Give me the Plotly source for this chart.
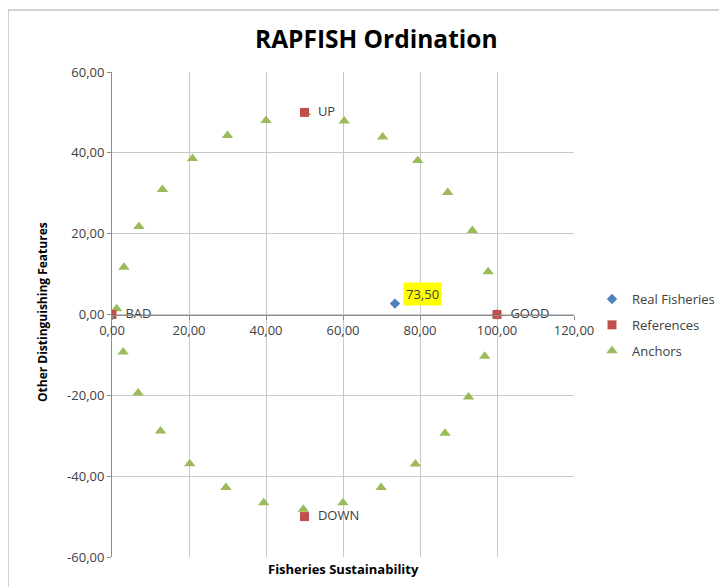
import plotly.graph_objects as go

# ---- data ----
anchor_x = [1.2, 3.1, 7.0, 13.1, 20.9, 30.0, 40.0, 50.3, 60.3, 70.3, 79.4, 87.2, 93.6, 97.7,
            99.8, 96.8, 92.6, 86.5, 78.8, 69.9, 60.0, 49.7, 39.4, 29.6, 20.2, 12.6, 6.8, 2.9]
anchor_y = [1.4, 11.7, 21.8, 30.9, 38.6, 44.3, 48.0, 49.9, 47.9, 43.9, 38.1, 30.2, 20.8, 10.6,
            0.2, -10.3, -20.4, -29.4, -37.0, -42.8, -46.6, -48.2, -46.6, -42.8, -36.9, -28.8, -19.4, -9.3]

ref_x = [0, 100, 50, 50]
ref_y = [0, 0, 50, -50]
ref_labels = ["BAD", "GOOD", "UP", "DOWN"]

rf_x = [73.5]
rf_y = [2.7]

x_ticks = [0, 20, 40, 60, 80, 100, 120]
y_ticks = [-60, -40, -20, 0, 20, 40, 60]


def fmt(v):
    return f"{v:.2f}".replace(".", ",")


FONT = "Open Sans"
OFF = 8  # page body margin
W, H = 727 - OFF, 587 - OFF
# plot area in screen pixels
SL, SR, ST, SB = 112, 574, 72, 557
L, R, T, B = SL - OFF, SR - OFF, ST - OFF, SB - OFF
pw, ph = R - L, B - T


def px_x(px):  # screen px -> paper
    return (px - SL) / pw


def px_y(py):
    return (SB - py) / ph


fig = go.Figure()

fig.add_trace(go.Scatter(
    x=anchor_x, y=anchor_y, mode="markers", name="Anchors",
    marker=dict(symbol="triangle-up", size=10, color="#9bbb59"),
    legendrank=3, legendgroup="a",
))
fig.add_trace(go.Scatter(
    x=ref_x, y=ref_y, mode="markers+text", name="References",
    text=ref_labels, texttemplate="  %{text}", textposition="middle right",
    textfont=dict(family=FONT, size=13, color="#404040"),
    marker=dict(symbol="square", size=9, color="#c0504d"),
    legendrank=2, legendgroup="r",
))
fig.add_trace(go.Scatter(
    x=rf_x, y=rf_y, mode="markers", name="Real Fisheries",
    marker=dict(symbol="diamond", size=8, color="#4f81bd"),
    legendrank=1, legendgroup="f",
))

fig.add_annotation(
    x=rf_x[0], y=rf_y[0], xref="x", yref="y",
    text=fmt(rf_x[0]), showarrow=False,
    xanchor="left", yanchor="bottom", xshift=8, yshift=-2,
    bgcolor="#ffff00", font=dict(family=FONT, size=13, color="#404040"),
    borderpad=2,
)

# title
fig.add_annotation(
    text="<b>RAPFISH Ordination</b>", xref="paper", yref="paper",
    x=px_x(376), y=px_y(38), xanchor="center", yanchor="middle", showarrow=False,
    font=dict(family=FONT, size=24.5, color="#000000"),
)
# axis titles
fig.add_annotation(
    text="<b>Fisheries Sustainability</b>", xref="paper", yref="paper",
    x=px_x(343), y=px_y(569), xanchor="center", yanchor="middle", showarrow=False,
    font=dict(family=FONT, size=13, color="#000000"),
)
fig.add_annotation(
    text="<b>Other Distinguishing Features</b>", xref="paper", yref="paper",
    x=px_x(42), y=px_y(312), xanchor="center", yanchor="middle", showarrow=False,
    textangle=-90, font=dict(family=FONT, size=12, color="#000000"),
)

# outer chart border
fig.add_shape(type="rect", xref="paper", yref="paper",
              x0=px_x(8), x1=px_x(740), y0=px_y(600), y1=px_y(10),
              line=dict(color="#a6a6a6", width=1), layer="below")

fig.update_layout(
    width=W, height=H,
    margin=dict(l=L, r=W - R, t=T, b=H - B, autoexpand=False),
    paper_bgcolor="white", plot_bgcolor="white",
    showlegend=True,
    legend=dict(
        x=px_x(592), y=px_y(325), xanchor="left", yanchor="middle",
        font=dict(family=FONT, size=13, color="#404040"),
        traceorder="grouped", tracegroupgap=6, itemwidth=30,
        bgcolor="rgba(0,0,0,0)",
    ),
    font=dict(family=FONT, size=13, color="#404040"),
)

fig.update_xaxes(
    range=[0, 120], tickvals=x_ticks, ticktext=[fmt(v) for v in x_ticks],
    anchor="free", position=0.5, automargin=False,
    showgrid=True, gridcolor="#c8c8c8", gridwidth=1,
    showline=True, linecolor="#8c8c8c", linewidth=1,
    ticks="outside", ticklen=4, tickcolor="#8c8c8c",
    zeroline=False, tickfont=dict(family=FONT, size=13, color="#404040"),
)
fig.update_yaxes(
    range=[-60, 60], tickvals=y_ticks, ticktext=[fmt(v) for v in y_ticks],
    automargin=False,
    showgrid=True, gridcolor="#c8c8c8", gridwidth=1,
    showline=True, linecolor="#8c8c8c", linewidth=1,
    ticks="outside", ticklen=4, tickcolor="#8c8c8c",
    zeroline=False, tickfont=dict(family=FONT, size=13, color="#404040"),
)

fig.write_html("out.html")
